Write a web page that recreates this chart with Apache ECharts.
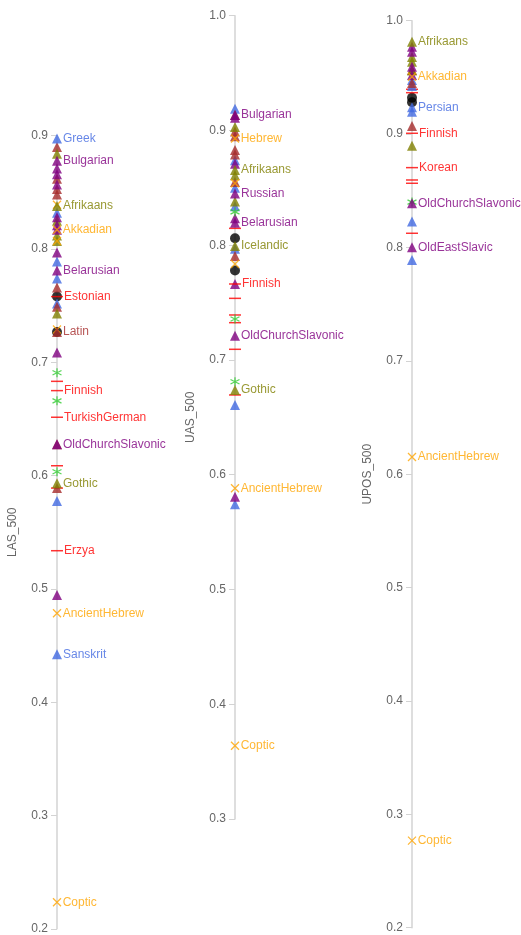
<!DOCTYPE html>
<html>
<head>
<meta charset="utf-8">
<script src="https://cdn.jsdelivr.net/npm/echarts@6/dist/echarts.min.js"></script>
<style>html,body{margin:0;padding:0;background:#fff;}#c{width:521px;height:935px;}</style>
</head>
<body>
<div id="c"></div>
<script>
// ---- data: axis names ----
const axisNames = ['LAS_500', 'UAS_500', 'UPOS_500'];
const axisMin = [0.2, 0.3, 0.2];
const axisMax = [0.9, 1.0, 1.0];

// ---- LAS_500 values by marker group (unlabelled points) ----
const lasBlue   = [0.832, 0.789, 0.774, 0.752, 0.5776];
const lasBrown  = [0.890, 0.862, 0.853, 0.848, 0.766, 0.749, 0.6276, 0.589];
const lasOlive  = [0.884, 0.825, 0.812, 0.807, 0.743];
const lasPurple = [0.871, 0.866, 0.857, 0.828, 0.821, 0.817, 0.797, 0.7087, 0.4946];
const lasOrange = [0.839, 0.807, 0.729];
const lasRed    = [0.6832, 0.6087, 0.589];
const lasGreen  = [0.6908, 0.666, 0.6034];
const lasBlack  = [0.758, 0.7267];
// labelled LAS points: [name, group, value]
const lasLabels = [
  ['Greek', 'blue', 0.8975], ['Bulgarian', 'purple', 0.878], ['Afrikaans', 'olive', 0.838],
  ['Akkadian', 'orange', 0.817], ['Belarusian', 'purple', 0.781], ['Estonian', 'red', 0.758],
  ['Latin', 'brown', 0.7267], ['Finnish', 'red', 0.675], ['TurkishGerman', 'red', 0.6515],
  ['OldChurchSlavonic', 'purple', 0.6276], ['Gothic', 'olive', 0.5932], ['Erzya', 'red', 0.5337],
  ['AncientHebrew', 'orange', 0.4785], ['Sanskrit', 'blue', 0.4423], ['Coptic', 'orange', 0.2234]
];

// ---- UAS_500 ----
const uasBlue   = [0.919, 0.874, 0.850, 0.834, 0.797, 0.6608, 0.5742];
const uasBrown  = [0.9135, 0.899, 0.895, 0.883, 0.879, 0.855, 0.7906];
const uasOlive  = [0.903, 0.861, 0.838];
const uasPurple = [0.911, 0.871, 0.8235, 0.7662, 0.5809];
const uasOrange = [0.854, 0.7837];
const uasRed    = [0.8147, 0.7537, 0.7392, 0.7325, 0.7093, 0.6695];
const uasGreen  = [0.829, 0.7357, 0.681];
const uasBlack  = [0.806, 0.778];
const uasLabels = [
  ['Bulgarian', 'purple', 0.9135], ['Hebrew', 'orange', 0.893], ['Afrikaans', 'olive', 0.8655],
  ['Russian', 'purple', 0.845], ['Belarusian', 'purple', 0.8196], ['Icelandic', 'olive', 0.7993],
  ['Finnish', 'red', 0.7662], ['OldChurchSlavonic', 'purple', 0.7212], ['Gothic', 'olive', 0.6738],
  ['AncientHebrew', 'orange', 0.5882], ['Coptic', 'orange', 0.3639]
];

// ---- UPOS_500 ----
const uposBlue   = [0.9477, 0.9424, 0.9198, 0.8228, 0.789];
const uposBrown  = [0.9565, 0.945, 0.9071];
const uposOlive  = [0.968, 0.9638, 0.956, 0.8898];
const uposPurple = [0.977, 0.9727, 0.9594, 0.952];
const uposOrange = [];
const uposRed    = [0.9395, 0.9365, 0.8595, 0.8566, 0.8125];
const uposGreen  = [0.840];
const uposBlack  = [0.932, 0.928];
const uposLabels = [
  ['Afrikaans', 'olive', 0.9815], ['Akkadian', 'orange', 0.9506], ['Persian', 'blue', 0.9236],
  ['Finnish', 'red', 0.9007], ['Korean', 'red', 0.8704], ['OldChurchSlavonic', 'purple', 0.839],
  ['OldEastSlavic', 'purple', 0.8002], ['AncientHebrew', 'orange', 0.6151], ['Coptic', 'orange', 0.2768]
];

// ---- styling ----
const groups = {
  black:  {color: '#000000', symbol: 'circle', size: 10},
  blue:   {color: '#4169e1', symbol: 'triangle', size: 10},
  brown:  {color: '#a52a2a', symbol: 'triangle', size: 10},
  olive:  {color: '#808000', symbol: 'triangle', size: 10},
  purple: {color: '#800080', symbol: 'triangle', size: 10},
  green:  {color: '#32cd32', symbol: 'path://M5,0L5,10M0.7,2.5L9.3,7.5M0.7,7.5L9.3,2.5', size: 9, stroke: true},
  red:    {color: '#ff0000', symbol: 'rect', size: [12, 1.5]},
  orange: {color: '#ffa500', symbol: 'path://M0,0L10,10M10,0L0,10', size: 8, stroke: true}
};
const order = ['black', 'red', 'blue', 'brown', 'olive', 'purple', 'green', 'orange'];
const axisData = [
  {black: lasBlack, blue: lasBlue, brown: lasBrown, olive: lasOlive, purple: lasPurple, green: lasGreen, red: lasRed, orange: lasOrange, labels: lasLabels},
  {black: uasBlack, blue: uasBlue, brown: uasBrown, olive: uasOlive, purple: uasPurple, green: uasGreen, red: uasRed, orange: uasOrange, labels: uasLabels},
  {black: uposBlack, blue: uposBlue, brown: uposBrown, olive: uposOlive, purple: uposPurple, green: uposGreen, red: uposRed, orange: uposOrange, labels: uposLabels}
];

const gridPos = [
  {left: 57, top: 135.7, height: 793.1},
  {left: 235, top: 15.7, height: 803.3},
  {left: 412, top: 20.7, height: 907}
];

function styleFor(g) {
  const s = groups[g];
  if (s.stroke) return {color: 'rgba(0,0,0,0)', borderColor: s.color, borderWidth: 1.3};
  return {color: s.color, borderWidth: 0};
}

const grids = [], xAxes = [], yAxes = [], series = [];
for (let i = 0; i < 3; i++) {
  grids.push({left: gridPos[i].left, top: gridPos[i].top, height: gridPos[i].height, width: 60});
  xAxes.push({gridIndex: i, type: 'value', min: 0, max: 1, show: false});
  yAxes.push({
    gridIndex: i, type: 'value', min: axisMin[i], max: axisMax[i], interval: 0.1,
    name: axisNames[i], nameLocation: 'middle', nameGap: 38,
    nameTextStyle: {color: '#666', fontSize: 12, fontFamily: 'Liberation Sans'},
    axisLine: {show: true, lineStyle: {color: '#d3d3d3', width: 1.5}},
    axisTick: {show: true, length: 6, lineStyle: {color: '#d3d3d3', width: 1}},
    axisLabel: {color: '#666', fontSize: 12, fontFamily: 'Liberation Sans', margin: 9,
      formatter: v => v.toFixed(1)},
    splitLine: {show: false}
  });
  const d = axisData[i];
  order.forEach(g => {
    const s = groups[g];
    series.push({
      type: 'scatter', xAxisIndex: i, yAxisIndex: i, clip: false, silent: true,
      symbol: s.symbol, symbolSize: s.size, itemStyle: styleFor(g),
      data: d[g].map(v => [0, v])
    });
  });
  order.forEach(g => {
    const s = groups[g];
    const pts = d.labels.filter(l => l[1] === g);
    if (!pts.length) return;
    series.push({
      type: 'scatter', xAxisIndex: i, yAxisIndex: i, clip: false, silent: true, z: 5,
      symbol: s.symbol, symbolSize: s.size, itemStyle: styleFor(g),
      label: {show: true, position: 'right', distance: 1, color: s.color, fontSize: 12,
        fontFamily: 'Liberation Sans', formatter: p => p.data.name},
      data: pts.map(l => ({name: l[0], value: [0, l[2]]}))
    });
  });
}

const chart = echarts.init(document.getElementById('c'), null, {renderer: 'canvas'});
chart.setOption({
  animation: false,
  backgroundColor: '#fff',
  grid: grids, xAxis: xAxes, yAxis: yAxes, series: series
});
</script>
</body>
</html>
